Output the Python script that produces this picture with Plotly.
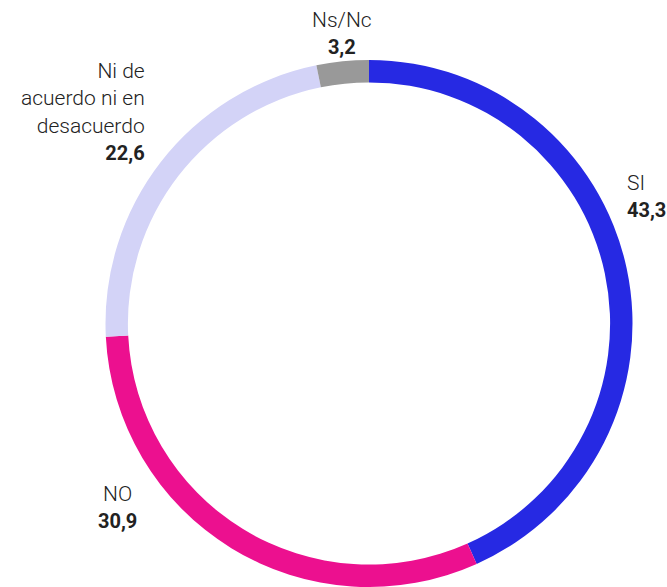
import plotly.graph_objects as go

categories = ["SI", "NO", "Ni de<br>acuerdo ni en<br>desacuerdo", "Ns/Nc"]
values = [43.3, 30.9, 22.6, 3.2]
colors = ["#2629E3", "#EC108F", "#D3D3F7", "#999999"]

W, H = 667, 587

fig = go.Figure(go.Pie(
    values=values,
    labels=categories,
    sort=False,
    direction="clockwise",
    rotation=0,
    hole=0.915,
    marker=dict(colors=colors, line=dict(width=0)),
    textinfo="none",
    hoverinfo="label+value",
    domain=dict(x=[105 / W, 633 / W], y=[0, 527 / H]),
    showlegend=False,
))

# label placement (pixel positions), text from data
label_pos = [
    (625, 197, "left", "left"),
    (117, 507, "center", "center"),
    (147, 112, "right", "right"),
    (342, 33, "center", "center"),
]

for cat, val, (px, py, xa, al) in zip(categories, values, label_pos):
    vtxt = f"{val:.1f}".replace(".", ",")
    txt = f"{cat}<br><span style='font-size:20px'><b>{vtxt}</b></span>"
    fig.add_annotation(
        x=px / W, y=1 - py / H, xref="paper", yref="paper",
        xanchor=xa, yanchor="middle", align=al,
        text=txt, showarrow=False,
        font=dict(family="Roboto", size=21, color="#222222", weight=300),
    )

fig.update_layout(
    width=W, height=H,
    margin=dict(l=0, r=0, t=0, b=0),
    paper_bgcolor="white", plot_bgcolor="white",
)

fig.write_html(
    "out.html",
    config={"displayModeBar": False},
    post_script="document.body.style.margin='0';document.body.style.overflow='hidden';",
)
